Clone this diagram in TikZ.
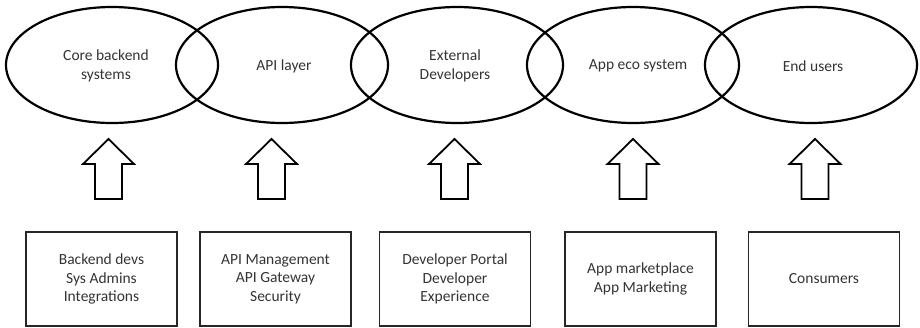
\documentclass[tikz,border=0pt]{standalone}
\usepackage{fontspec}
\usetikzlibrary{shapes.geometric}
\setmainfont{Carlito}
\begin{document}
\begin{tikzpicture}[x=1pt,y=-1pt,
  txt/.style={font=\fontsize{15.5}{18.5}\selectfont, text=black!80, align=center},
  zone/.style={draw=black, line width=2.2pt, ellipse, minimum width=212pt, minimum height=116pt, inner sep=0pt},
  actor/.style={draw=black!85, line width=1.4pt, minimum width=151pt, minimum height=94pt, inner sep=0pt},
  uparrow/.style={draw=black, line width=1.8pt, line join=miter}
]
\useasboundingbox (0,0) rectangle (920,327);

% overlapping ellipses (outlines only)
\foreach \n/\x in {e1/112, e2/282, e3/457, e4/633, e5/811}
  \node[zone] (\n) at (\x,65) {};

\node[txt] (t1) at (106,66) {Core backend\\systems};
\node[txt] (t2) at (284,66) {API layer};
\node[txt] (t3) at (455,66) {External\\Developers};
\node[txt] (t4) at (638,66) {App eco system};
\node[txt] (t5) at (813,66) {End users};

% block arrows
\foreach \x in {108.5, 271.5, 454.5, 633, 815}
  \draw[uparrow] (\x,139) -- (\x+25.5,164) -- (\x+13.5,164) -- (\x+13.5,199)
     -- (\x-13.5,199) -- (\x-13.5,164) -- (\x-25.5,164) -- cycle;

% bottom boxes
\node[actor, txt] (b1) at (101.5,279) {Backend devs\\Sys Admins\\Integrations};
\node[actor, txt] (b2) at (275.5,279) {API Management\\API Gateway\\Security};
\node[actor, txt] (b3) at (455,279) {Developer Portal\\Developer\\Experience};
\node[actor, txt] (b4) at (640.5,279) {App marketplace\\App Marketing};
\node[actor, txt] (b5) at (824,279) {Consumers};
\end{tikzpicture}
\end{document}
